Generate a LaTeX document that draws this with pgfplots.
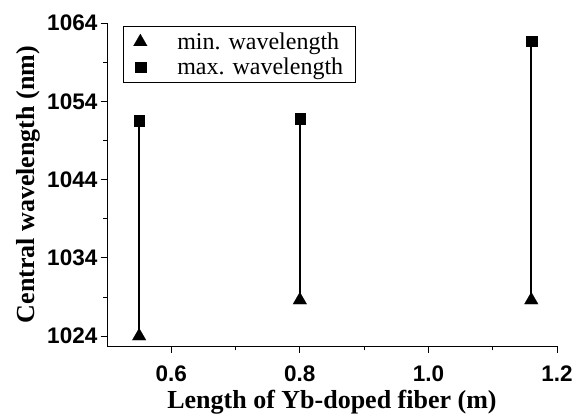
\documentclass[border=0pt]{standalone}
\usepackage{fontspec}
\setmainfont{Liberation Serif}
\newfontfamily\arialfont{Liberation Sans}
\usepackage{pgfplots}
\pgfplotsset{compat=1.18}
\begin{document}
\begin{tikzpicture}
\begin{axis}[scale only axis, width=450pt, height=323.4pt,
  xmin=0.5, xmax=1.2, ymin=1022.7, ymax=1064,
  axis x line*=bottom, axis y line*=left,
  axis line style={line width=0.9pt},
  xtick={0.6,0.8,1.0,1.2}, minor xtick={0.7,0.9,1.1},
  ytick={1024,1034,1044,1054,1064}, minor ytick={1029,1039,1049,1059},
  tick align=outside, major tick length=6.5pt, minor tick length=4pt,
  tick style={line width=0.8pt, black},
  /pgf/number format/assume math mode=true,
  /pgf/number format/1000 sep={},
  xticklabel style={/pgf/number format/fixed, /pgf/number format/fixed zerofill, /pgf/number format/precision=1, inner sep=1pt, yshift=-12pt},
  yticklabel style={inner sep=1pt, xshift=-2pt},
  tick label style={font=\arialfont\bfseries\fontsize{22.5}{24}\selectfont},
  xlabel={Length of Yb-doped fiber (m)},
  ylabel={Central wavelength (nm)},
  label style={font=\bfseries\fontsize{26}{28}\selectfont},
  xlabel style={inner sep=0pt, yshift=-7pt},
  ylabel style={inner sep=0pt, yshift=6pt},
  legend style={at={(axis description cs:0,1)}, anchor=north west, xshift=16pt, yshift=-3pt,
    font=\fontsize{24}{26}\selectfont, draw=black, line width=0.8pt,
    inner xsep=10pt, inner ysep=4.5pt, row sep=3pt, cells={anchor=west}},
  legend cell align=left,
]
\addplot[black, line width=1.6pt, forget plot] coordinates {(0.55,1024) (0.55,1051.5)};
\addplot[black, line width=1.6pt, forget plot] coordinates {(0.8,1028.6) (0.8,1051.8)};
\addplot[black, line width=1.6pt, forget plot] coordinates {(1.16,1028.6) (1.16,1061.7)};
\addplot[only marks, mark=triangle*, mark size=8pt, black, mark options={line width=0.1pt}] coordinates {(0.55,1024) (0.8,1028.6) (1.16,1028.6)};
\addlegendentry{\hspace{28pt}min. wavelength\hspace{12pt}}
\addplot[only marks, mark=square*, mark size=5.3pt, black, mark options={line width=0.1pt}] coordinates {(0.55,1051.5) (0.8,1051.8) (1.16,1061.7)};
\addlegendentry{\hspace{28pt}max. wavelength\hspace{12pt}}
\coordinate (bl) at (axis description cs:-0.2378,-0.219);
\coordinate (tr) at (axis description cs:1.0378,1.071);
\end{axis}
\path (bl) rectangle (tr);
\end{tikzpicture}
\end{document}
